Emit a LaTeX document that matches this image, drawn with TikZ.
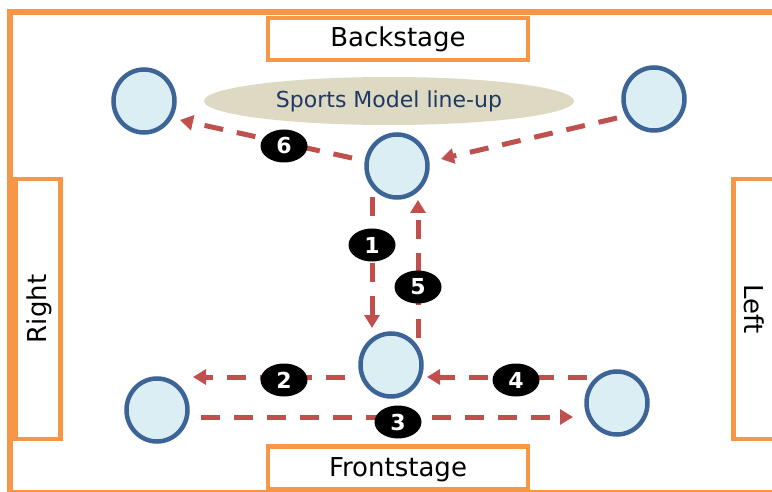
\documentclass[tikz,border=0pt]{standalone}
\usepackage{fontspec}
\setmainfont{DejaVu Sans}
\usetikzlibrary{shapes.geometric,arrows.meta}
\definecolor{stageorange}{HTML}{F79646}
\definecolor{ballfill}{HTML}{DAEEF3}
\definecolor{ballline}{HTML}{3C6496}
\definecolor{lineupfill}{HTML}{DDD9C3}
\definecolor{lineuptext}{HTML}{1F3864}
\definecolor{pathred}{HTML}{C0504D}
\begin{document}
\begin{tikzpicture}[x=1pt,y=1pt,
  stagebox/.style={draw=stageorange, line width=4.5pt, rectangle, inner sep=0pt, fill=white},
  stagetext/.style={font=\fontsize{26}{30}\selectfont, inner sep=0pt},
  model/.style={ellipse, draw=ballline, fill=ballfill, line width=4.5pt, minimum width=61pt, minimum height=63pt, inner sep=0pt},
  walk/.style={draw=pathred, line width=5pt, dash pattern=on 19pt off 14pt, -{Triangle[length=13pt,width=15pt]}},
  steplabel/.style={ellipse, fill=black, minimum width=47pt, minimum height=33pt, inner sep=0pt, text=white, font=\fontsize{22}{26}\selectfont\bfseries},
]
\useasboundingbox (0,0) rectangle (772,491);
\clip (0,0) rectangle (772,491);
\fill[white] (0,0) rectangle (772,491);

% outer stage frame
\draw[stageorange, line width=5.5pt] (10,-1.8) rectangle (820,479);

% stage side boxes
\node[stagebox, minimum width=260pt, minimum height=42pt] (back) at (398,452) {};
\node[stagetext] at (back.center) {Backstage};
\node[stagebox, minimum width=260pt, minimum height=43pt] (front) at (398,23) {};
\node[stagetext] at (398,21) {Frontstage};
\node[stagebox, minimum width=45pt, minimum height=260pt] (rightside) at (37.75,182) {};
\node[stagetext, rotate=90] at (39,182) {Right};
\node[stagebox, minimum width=80pt, minimum height=260pt] (leftside) at (773.5,182) {};
\node[stagetext, rotate=-90] at (754,182) {Left};

% line-up
\node[ellipse, fill=lineupfill, minimum width=370pt, minimum height=48pt, inner sep=0pt,
      text=lineuptext, font=\fontsize{22}{26}\selectfont] (lineup) at (389,390) {Sports Model line-up};

% models
\node[model] (tl) at (144,390) {};
\node[model] (tr) at (654,392) {};
\node[model] (tc) at (397,325) {};
\node[model] (bc) at (391,126) {};
\node[model] (bl) at (157,81) {};
\node[model] (br) at (617,88) {};

% walking paths
\draw[walk] ([shift={(-45,8)}]tc.center) -- ([shift={(36,-19)}]tl.center);
\draw[walk] ([shift={(-37,-19)}]tr.center) -- ([shift={(44,7)}]tc.center);
\draw[walk] ([shift={(-25,-31)}]tc.center) -- ([shift={(-19,37)}]bc.center);
\draw[walk] ([shift={(27,27)}]bc.center) -- ([shift={(21,-34)}]tc.center);
\draw[walk] ([shift={(-46,-12)}]bc.center) -- ([shift={(36,33)}]bl.center);
\draw[walk] ([shift={(-30,26)}]br.center) -- ([shift={(36,-12)}]bc.center);
\draw[walk] ([shift={(44,-7)}]bl.center) -- ([shift={(-44,-14)}]br.center);

% step numbers
\node[steplabel] (s1) at (372,246) {1};
\node[steplabel] (s2) at (284,111) {2};
\node[steplabel] (s3) at (398,69) {3};
\node[steplabel] (s4) at (516,111) {4};
\node[steplabel] (s5) at (418,204) {5};
\node[steplabel] (s6) at (284,345) {6};
\end{tikzpicture}
\end{document}
